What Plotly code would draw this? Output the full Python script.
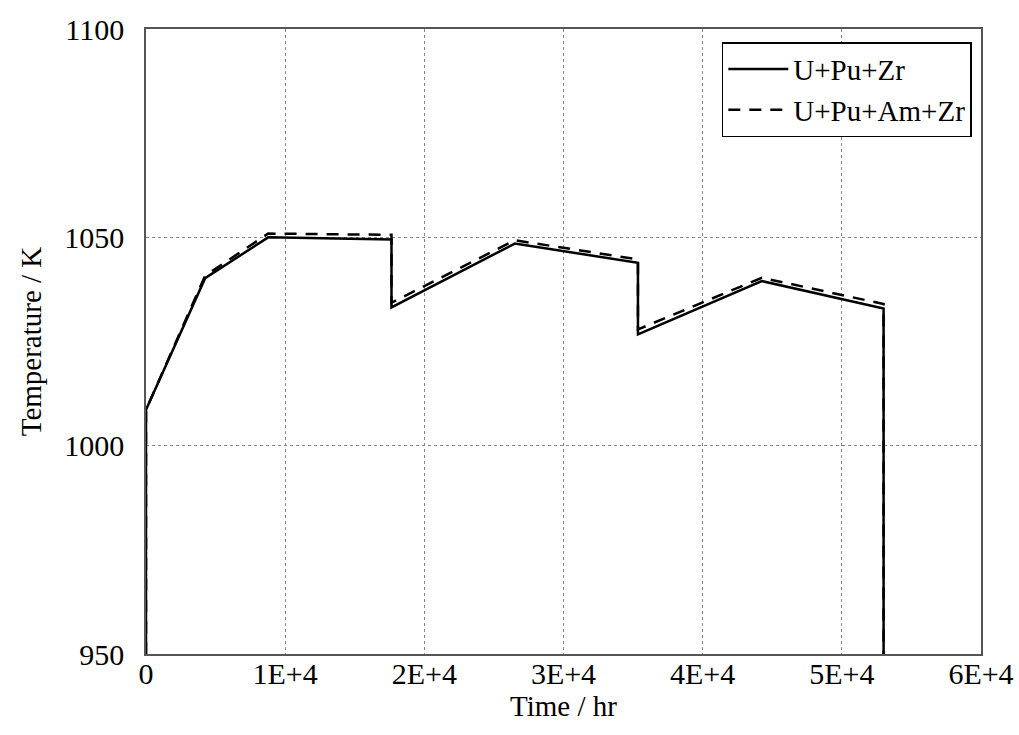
import plotly.graph_objects as go

# Fuel centre temperature history over three irradiation cycles
time_upuzr = [0, 0, 4250, 8780, 17640, 17640, 26500, 35350, 35350, 44250, 53000, 53000]
temp_upuzr = [950, 1008.6, 1040.2, 1050.0, 1049.5, 1033.2, 1048.5, 1043.9, 1026.7, 1039.5, 1032.9, 950]

time_upuamzr = [0, 0, 4250, 8780, 17640, 17640, 26500, 35350, 35350, 44250, 53000, 53000]
temp_upuamzr = [950, 1008.6, 1040.8, 1050.9, 1050.6, 1034.3, 1049.3, 1044.7, 1027.9, 1040.3, 1034.0, 950]

x_ticks = [0, 10000, 20000, 30000, 40000, 50000, 60000]
x_labels = ["0", "1E+4", "2E+4", "3E+4", "4E+4", "5E+4", "6E+4"]
y_ticks = [950, 1000, 1050, 1100]

FONT = "Liberation Serif, Times New Roman, serif"

fig = go.Figure()
fig.add_trace(go.Scatter(
    x=time_upuzr, y=temp_upuzr, mode="lines", name="U+Pu+Zr",
    line=dict(color="black", width=2.5),
))
fig.add_trace(go.Scatter(
    x=time_upuamzr, y=temp_upuamzr, mode="lines", name="U+Pu+Am+Zr",
    line=dict(color="black", width=2.5, dash="12px,9px"),
))

axis_common = dict(
    showline=True, linecolor="#555", linewidth=1.5, mirror=True,
    showgrid=True, gridcolor="#888", griddash="dot", gridwidth=1,
    zeroline=False, ticks="", automargin=False,
    tickfont=dict(family=FONT, size=30, color="black"),
)

fig.update_layout(
    width=1019, height=735,
    margin=dict(l=146, r=38, t=29, b=81),
    paper_bgcolor="white", plot_bgcolor="white",
    font=dict(family=FONT, size=30, color="black"),
    showlegend=True,
    legend=dict(
        x=0.989, y=0.979, xanchor="right", yanchor="top",
        bgcolor="white", bordercolor="black", borderwidth=1.5,
        font=dict(family=FONT, size=29, color="black"),
        tracegroupgap=0, itemwidth=60,
    ),
    xaxis=dict(
        range=[0, 60000], tickvals=x_ticks, ticktext=x_labels,
        ticklabelstandoff=-8,
        title=dict(text="Time / hr", font=dict(family=FONT, size=29), standoff=2),
        **axis_common,
    ),
    yaxis=dict(
        range=[950, 1100], tickvals=y_ticks,
        ticklabelstandoff=14,
        title=dict(text="Temperature / K", font=dict(family=FONT, size=29), standoff=14),
        **axis_common,
    ),
)

fig.write_html("out.html")
